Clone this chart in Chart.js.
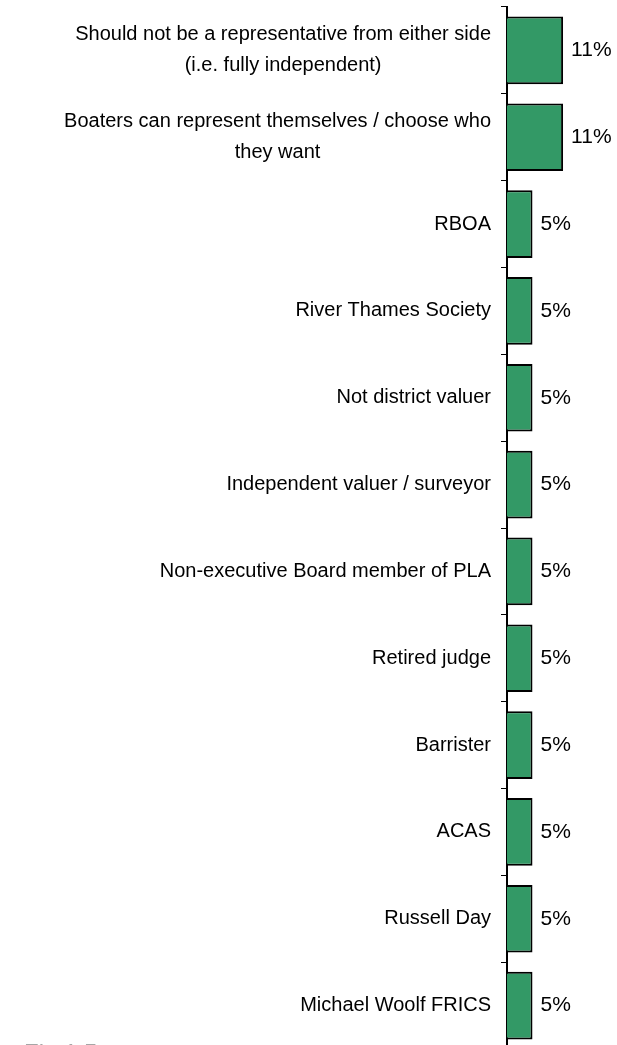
<!DOCTYPE html>
<html>
<head>
<meta charset="utf-8">
<script src="https://cdn.jsdelivr.net/npm/chart.js@4.4.1/dist/chart.umd.min.js"></script>
<style>
    html, body { margin: 0; padding: 0; background: #fff; overflow: hidden; }
    #wrap { position: relative; width: 617px; height: 1045px; overflow: hidden; }
    #chart { position: absolute; left: 0; top: 0; }
    #fig { position: absolute; left: 24px; top: 1041px; font: 24px/24px 'Liberation Sans', Arial, sans-serif; color: #a6a6a6; }
</style>
</head>
<body>
<div id="wrap">
    <canvas id="chart" width="617" height="1049"></canvas>
    <div id="fig">Fig 1.5</div>
</div>
<script>
// 数据
const categories = [
    ['Should not be a representative from either side', '(i.e. fully independent)'],
    ['Boaters can represent themselves / choose who', 'they want'],
    'RBOA',
    'River Thames Society',
    'Not district valuer',
    'Independent valuer / surveyor',
    'Non-executive Board member of PLA',
    'Retired judge',
    'Barrister',
    'ACAS',
    'Russell Day',
    'Michael Woolf FRICS'
];
const percentages = [11, 11, 5, 5, 5, 5, 5, 5, 5, 5, 5, 5];

const FONT = "20px 'Liberation Sans', Arial, sans-serif";
const VALUE_FONT = "21px 'Liberation Sans', Arial, sans-serif";
const AXIS_LEFT = 507;

// 左侧多行标签（行间居中，整体右对齐）+ 数值标签
const labelPlugin = {
    id: 'catLabels',
    afterDraw(chart) {
        const ctx = chart.ctx;
        const scale = chart.scales.y;
        const right = scale.right - 6 - 10;
        ctx.save();
        ctx.font = FONT;
        ctx.fillStyle = '#000';
        ctx.textAlign = 'center';
        ctx.textBaseline = 'middle';
        categories.forEach((lab, i) => {
            const lines = Array.isArray(lab) ? lab : [lab];
            const widest = Math.max(...lines.map(l => ctx.measureText(l).width));
            const cy = scale.getPixelForTick(i);
            lines.forEach((l, j) => {
                ctx.fillText(l, right - widest / 2, cy + (j - (lines.length - 1) / 2) * 31);
            });
        });
        const meta = chart.getDatasetMeta(0);
        ctx.font = VALUE_FONT;
        ctx.textAlign = 'left';
        meta.data.forEach((bar, i) => {
            ctx.fillText(percentages[i] + '%', bar.x + 8, bar.y);
        });
        ctx.restore();
    }
};

new Chart(document.getElementById('chart'), {
    type: 'bar',
    data: {
        labels: categories,
        datasets: [{
            data: percentages,
            backgroundColor: '#339966',
            borderColor: '#000',
            borderWidth: 2,
            barPercentage: 0.78,
            categoryPercentage: 1
        }]
    },
    options: {
        indexAxis: 'y',
        responsive: false,
        animation: false,
        devicePixelRatio: 1,
        layout: { padding: { top: 7, right: 8, left: 0, bottom: 0 } },
        plugins: { legend: { display: false }, tooltip: { enabled: false } },
        scales: {
            x: { display: false, min: 0, max: 20 },
            y: {
                afterFit: (s) => { s.width = AXIS_LEFT; },
                grid: { display: true, drawOnChartArea: false, drawTicks: true, tickLength: 6, color: '#000', lineWidth: 1, offset: true },
                border: { display: true, color: '#000', width: 2 },
                ticks: { display: false }
            }
        }
    },
    plugins: [labelPlugin]
});
</script>
</body>
</html>
